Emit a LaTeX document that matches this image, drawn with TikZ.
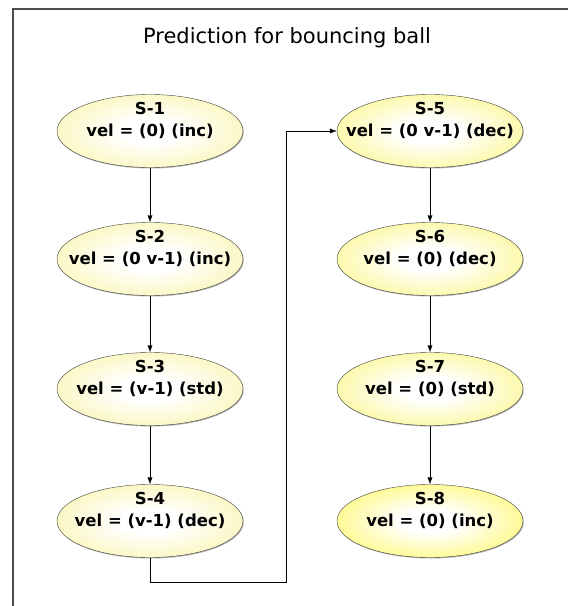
\documentclass[tikz,border=0pt]{standalone}
\usepackage{fontspec}
\setmainfont{DejaVu Sans}
\usetikzlibrary{shapes,arrows.meta,shadows,positioning}

\colorlet{statefill}{yellow}
\pgfdeclareradialshading[statefill]{stateglow}{\pgfpointorigin}{color(0bp)=(white); color(8bp)=(white); color(50bp)=(statefill); color(75bp)=(statefill)}
\definecolor{paleyellow}{RGB}{245,238,115}
\definecolor{midyellow}{RGB}{248,240,55}
\definecolor{fullyellow}{RGB}{255,243,0}

\tikzset{
    -{Latex[length=7pt,width=5pt]}, x=1pt, y=-1pt, line width=1pt,
    state/.style ={ellipse, draw=black!75, shading=stateglow,
        minimum width=186pt, minimum height=73pt, inner xsep=-30pt, inner ysep=-8pt,
        align=center, text depth=24pt, font=\bfseries\fontsize{16.5}{22}\selectfont,
        drop shadow={shadow xshift=0.8pt, shadow yshift=-1pt, opacity=0.3, fill=black}},
    tint/.code={\colorlet{statefill}{#1}},
    frame/.style={-, draw=black!70, line width=1.6pt}
}

\begin{document}
\begin{tikzpicture}
      \useasboundingbox (0,0) rectangle (568,606);
      \draw[frame] (13,606) |- (568,9);

      \node[font=\fontsize{21}{24}\selectfont] (title) at (287,38) {Prediction for bouncing ball};

      \node[state,tint=paleyellow] (s1) at (150,131) {S-1\\vel = (0) (inc)};
      \node[state,tint=paleyellow] (s2) at (150,259) {S-2\\vel = (0 v-1) (inc)};
      \node[state,tint=paleyellow] (s3) at (150,389) {S-3\\vel = (v-1) (std)};
      \node[state,tint=paleyellow] (s4) at (150,521) {S-4\\vel = (v-1) (dec)};
      \node[state,tint=midyellow] (s5) at (430,131) {S-5\\vel = (0 v-1) (dec)};
      \node[state,tint=midyellow] (s6) at (430,259) {S-6\\vel = (0) (dec)};
      \node[state,tint=midyellow] (s7) at (430,389) {S-7\\vel = (0) (std)};
      \node[state,tint=fullyellow] (s8) at (430,521) {S-8\\vel = (0) (inc)};

      \coordinate (turn) at (286,582);

      \draw (s1) -- (s2);
      \draw (s2) -- (s3);
      \draw (s3) -- (s4);
      \draw (s4.south) |- (turn) |- (s5.west);
      \draw (s5) -- (s6);
      \draw (s6) -- (s7);
      \draw (s7) -- (s8);
\end{tikzpicture}
\end{document}
